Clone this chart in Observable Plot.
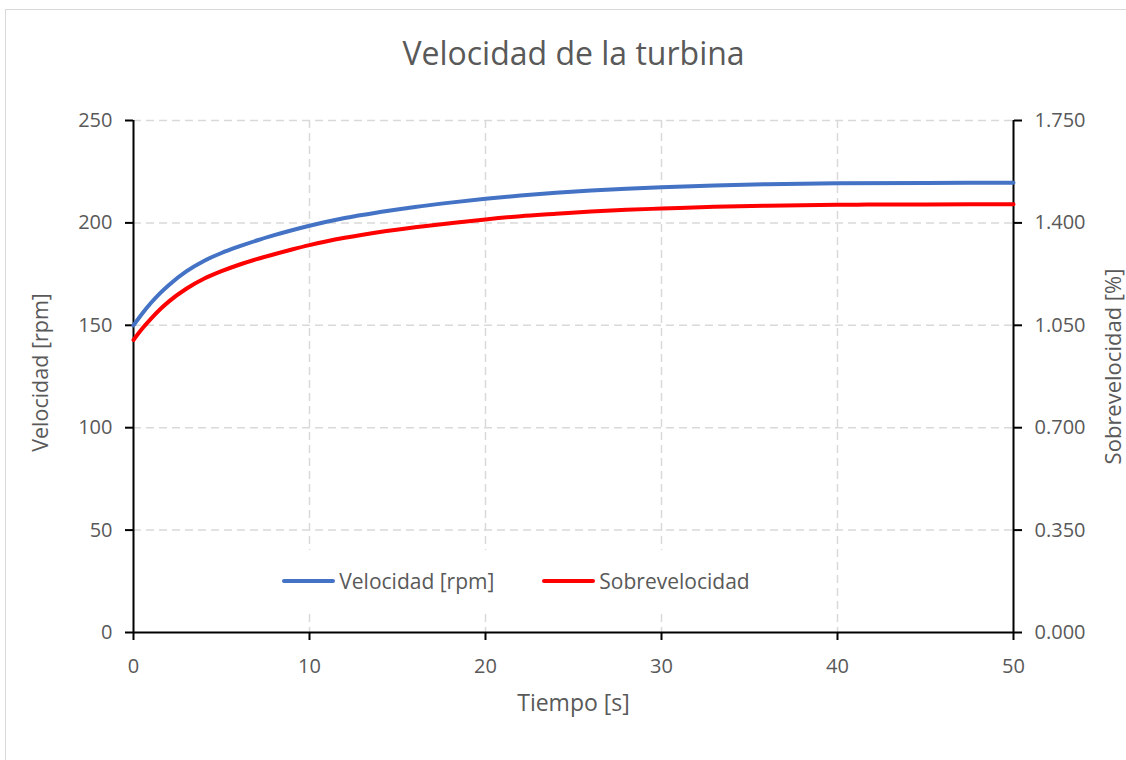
<!DOCTYPE html>
<html>
<head>
<meta charset="utf-8">
<script src="https://cdn.jsdelivr.net/npm/d3@7"></script>
<script src="https://cdn.jsdelivr.net/npm/@observablehq/plot@0.6"></script>
<style>
  html, body { margin: 0; padding: 0; background: #fff; overflow: hidden; }
  #wrap { position: relative; width: 1126px; height: 760px; font-family: "Open Sans", sans-serif; }
  #frame { position: absolute; left: 5px; top: 9px; width: 1200px; height: 800px; border: 1.5px solid #d9d9d9; box-sizing: border-box; pointer-events: none; }
  #chart { position: absolute; left: 0; top: 0; }
  #legend { position: absolute; left: 271px; top: 550px; width: 490px; height: 62px; background: #fff;
            display: flex; align-items: center; justify-content: center; gap: 48px; font-size: 21px; color: #595959; }
  .item { display: flex; align-items: center; }
  .sw { display: inline-block; width: 53px; height: 4px; border-radius: 2px; margin-right: 4px; }
</style>
</head>
<body>
<div id="wrap">
  <div id="frame"></div>
  <div id="chart"></div>
  <div id="legend"></div>
</div>
<script>
// Data
const tiempo = [0, 0.5, 1, 1.5, 2, 3, 4, 5, 6, 7, 8, 9, 10, 12, 14, 16, 18, 20, 22, 24, 26, 28, 30, 33, 36, 40, 45, 50];
const velocidad = [150.0, 155.8, 161.0, 165.6, 169.6, 176.3, 181.4, 185.3, 188.5, 191.4, 194.0, 196.4, 198.6, 202.4, 205.3, 207.8, 209.9, 211.8, 213.4, 214.7, 215.8, 216.7, 217.4, 218.3, 218.9, 219.3, 219.5, 219.6];
const sobrevelocidad = [1.000, 1.039, 1.073, 1.104, 1.131, 1.175, 1.209, 1.235, 1.257, 1.276, 1.293, 1.309, 1.324, 1.349, 1.369, 1.385, 1.399, 1.412, 1.423, 1.431, 1.439, 1.445, 1.449, 1.455, 1.459, 1.462, 1.463, 1.464];
const xTicks = [0, 10, 20, 30, 40, 50];
const yTicksLeft = [0, 50, 100, 150, 200, 250];
const yTicksRight = [0, 0.35, 0.70, 1.05, 1.40, 1.75];
const seriesNames = ["Velocidad [rpm]", "Sobrevelocidad"];
const seriesColors = ["#4472C4", "#FF0000"];

const leftMax = 250, rightMax = 1.75;
const toLeft = v => v * leftMax / rightMax;

const velData = tiempo.map((t, i) => ({t, v: velocidad[i]}));
const sobData = tiempo.map((t, i) => ({t, v: toLeft(sobrevelocidad[i])}));

const txt = "#595959";
const grid = {stroke: "#d9d9d9", strokeOpacity: 1, strokeWidth: 1.5, strokeDasharray: "8,5"};

const chart = Plot.plot({
  width: 1126,
  height: 760,
  marginLeft: 133,
  marginRight: 113,
  marginTop: 120,
  marginBottom: 128,
  style: {fontFamily: "'Open Sans', sans-serif", fontSize: "20px", color: txt, background: "transparent", overflow: "visible"},
  x: {domain: [0, 50]},
  y: {domain: [0, leftMax]},
  marks: [
    Plot.gridY(yTicksLeft.filter(d => d > 0), grid),
    Plot.gridX(xTicks.filter(d => d > 0 && d < 50), grid),
    Plot.ruleX([0, 50], {stroke: "#000", strokeWidth: 2}),
    Plot.ruleY([0], {stroke: "#000", strokeWidth: 2}),
    Plot.axisY(yTicksLeft, {anchor: "left", tickSize: 8, tickPadding: 13, stroke: "#000", strokeWidth: 2, fill: txt, fontSize: 20, label: null}),
    Plot.axisY(yTicksRight.map(toLeft), {anchor: "right", tickSize: 8, tickPadding: 13, stroke: "#000", strokeWidth: 2, fill: txt, fontSize: 20, label: null,
      tickFormat: d => (d * rightMax / leftMax).toFixed(3)}),
    Plot.axisX(xTicks, {anchor: "bottom", tickSize: 8, tickPadding: 18, stroke: "#000", strokeWidth: 2, fill: txt, fontSize: 20, label: null}),
    Plot.line(velData, {x: "t", y: "v", stroke: seriesColors[0], strokeWidth: 4, curve: "monotone-x"}),
    Plot.line(sobData, {x: "t", y: "v", stroke: seriesColors[1], strokeWidth: 4, curve: "monotone-x"}),
    Plot.text(["Velocidad de la turbina"], {frameAnchor: "top", dy: -78, fontSize: 32, fill: txt}),
    Plot.text(["Tiempo [s]"], {frameAnchor: "bottom", dy: 78, fontSize: 23, fill: txt}),
    Plot.text(["Velocidad [rpm]"], {frameAnchor: "left", textAnchor: "middle", dx: -92, dy: -4, rotate: -90, fontSize: 21.5, fill: txt}),
    Plot.text(["Sobrevelocidad [%]"], {frameAnchor: "right", textAnchor: "middle", dx: 100, dy: -10, rotate: -90, fontSize: 22, fill: txt})
  ]
});
document.getElementById("chart").appendChild(chart);

const legend = document.getElementById("legend");
seriesNames.forEach((name, i) => {
  const it = document.createElement("div");
  it.className = "item";
  const sw = document.createElement("span");
  sw.className = "sw";
  sw.style.background = seriesColors[i];
  const lb = document.createElement("span");
  lb.textContent = name;
  it.appendChild(sw);
  it.appendChild(lb);
  legend.appendChild(it);
});
</script>
</body>
</html>
